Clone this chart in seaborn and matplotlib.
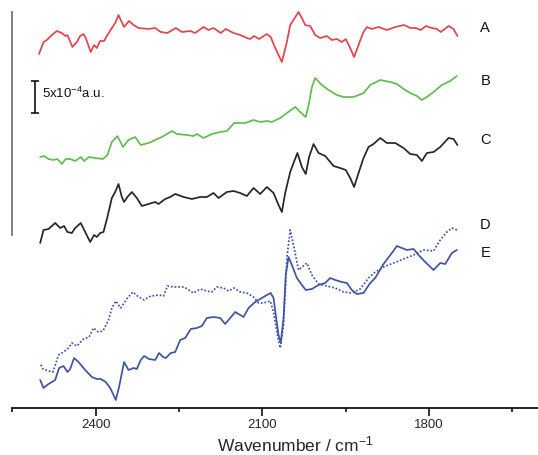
import matplotlib
matplotlib.use("Agg")
import matplotlib.pyplot as plt
import pandas as pd
import seaborn as sns
from matplotlib.ticker import MultipleLocator, AutoMinorLocator

# spectra; signal in reading units (32 units = 5x10^-4 a.u.)
UNIT = 5e-4 / 32
SCALE_BAR = 5e-4

a_wn = [2502, 2494, 2488, 2479, 2470, 2461, 2455, 2451, 2442, 2434, 2428, 2422, 2418, 2409, 2403,
        2398, 2392, 2385, 2379, 2371, 2365, 2359, 2355, 2349, 2340, 2332, 2323, 2305, 2293, 2283,
        2271, 2256, 2245, 2230, 2221, 2206, 2197, 2188, 2175, 2166, 2152, 2140, 2128, 2122, 2115,
        2106, 2092, 2085, 2077, 2065, 2056, 2050, 2043, 2035, 2029, 2023, 2014, 2005, 1996, 1984,
        1975, 1966, 1957, 1950, 1942, 1935, 1927, 1919, 1912, 1903, 1891, 1876, 1861, 1845, 1834,
        1824, 1815, 1806, 1795, 1786, 1779, 1765, 1756, 1749]
a_sig = [355, 367, 369, 374, 378, 376, 373, 374, 362, 367, 373, 375, 371, 357, 364,
         361, 368, 368, 374, 381, 386, 394, 389, 382, 388, 384, 381, 380, 381, 377,
         376, 381, 377, 378, 376, 382, 379, 381, 376, 380, 376, 374, 371, 370, 373,
         370, 375, 372, 361, 347, 367, 384, 390, 397, 391, 384, 383, 374, 371, 373,
         369, 370, 367, 370, 361, 352, 364, 376, 382, 380, 382, 379, 382, 384, 381,
         381, 379, 383, 381, 380, 377, 383, 380, 373]

b_wn = [2500, 2493, 2485, 2476, 2469, 2461, 2454, 2446, 2437, 2427, 2421, 2412, 2401, 2387, 2379,
        2371, 2361, 2351, 2341, 2329, 2319, 2305, 2293, 2281, 2272, 2263, 2254, 2236, 2224, 2218,
        2206, 2191, 2176, 2164, 2151, 2140, 2131, 2116, 2104, 2092, 2083, 2068, 2056, 2041, 2032,
        2022, 2016, 2011, 2005, 1993, 1981, 1966, 1954, 1936, 1918, 1906, 1888, 1870, 1858, 1846,
        1834, 1822, 1813, 1804, 1792, 1777, 1762, 1750]
b_sig = [252, 253, 250, 249, 250, 245, 250, 250, 248, 252, 248, 252, 251, 250, 254,
         267, 273, 262, 269, 272, 264, 266, 269, 272, 275, 278, 275, 274, 273, 275,
         271, 275, 277, 278, 286, 286, 286, 289, 287, 288, 287, 291, 296, 302, 297,
         292, 306, 322, 331, 324, 319, 314, 312, 312, 316, 324, 329, 327, 325, 320,
         316, 313, 309, 312, 317, 324, 328, 333]

c_wn = [2500, 2494, 2485, 2473, 2464, 2457, 2451, 2443, 2437, 2427, 2419, 2410, 2403, 2398, 2392,
        2386, 2379, 2371, 2365, 2359, 2353, 2349, 2343, 2335, 2326, 2317, 2305, 2293, 2287, 2275,
        2266, 2257, 2242, 2227, 2212, 2200, 2188, 2179, 2164, 2152, 2140, 2128, 2116, 2104, 2092,
        2080, 2071, 2065, 2059, 2050, 2044, 2037, 2029, 2022, 2016, 2008, 1999, 1987, 1972, 1960,
        1950, 1942, 1935, 1927, 1918, 1909, 1900, 1888, 1876, 1861, 1846, 1834, 1822, 1813, 1804,
        1792, 1780, 1765, 1756, 1749]
c_sig = [166, 179, 180, 186, 181, 183, 177, 176, 181, 186, 177, 167, 174, 172, 176,
         177, 192, 211, 217, 225, 212, 207, 212, 217, 211, 203, 205, 207, 205, 210,
         212, 215, 212, 210, 212, 212, 216, 211, 217, 218, 216, 213, 221, 215, 222,
         216, 204, 197, 216, 237, 246, 256, 242, 235, 252, 265, 256, 253, 243, 241,
         239, 231, 222, 236, 251, 262, 265, 271, 266, 266, 261, 255, 254, 248, 256,
         257, 262, 271, 270, 264]

d_wn = [2500, 2495, 2485, 2477, 2467, 2458, 2449, 2443, 2434, 2422, 2412, 2404, 2395, 2387, 2377,
        2371, 2364, 2355, 2343, 2333, 2325, 2313, 2301, 2286, 2278, 2271, 2260, 2241, 2224, 2212,
        2200, 2191, 2182, 2170, 2161, 2151, 2140, 2128, 2116, 2107, 2098, 2086, 2080, 2073, 2068,
        2062, 2056, 2050, 2044, 2035, 2020, 2011, 1999, 1984, 1969, 1954, 1939, 1924, 1909, 1897,
        1882, 1864, 1846, 1828, 1810, 1792, 1780, 1768, 1759, 1750]
d_sig = [46, 40, 38, 37, 54, 57, 61, 66, 63, 70, 72, 81, 77, 78, 89,
         101, 108, 101, 111, 117, 113, 109, 113, 114, 113, 123, 122, 122, 116, 120,
         118, 117, 122, 121, 118, 121, 117, 116, 112, 106, 106, 108, 97, 74, 61,
         84, 151, 179, 164, 139, 146, 134, 125, 123, 121, 117, 116, 120, 131, 137,
         142, 146, 150, 154, 159, 158, 169, 177, 181, 179]

e_wn = [2500, 2494, 2485, 2473, 2466, 2458, 2451, 2446, 2439, 2431, 2419, 2407, 2398, 2391, 2382,
        2374, 2368, 2364, 2358, 2349, 2341, 2332, 2326, 2319, 2313, 2304, 2293, 2286, 2279, 2274,
        2265, 2257, 2248, 2239, 2229, 2218, 2209, 2200, 2188, 2176, 2167, 2158, 2149, 2140, 2134,
        2125, 2113, 2101, 2092, 2085, 2080, 2076, 2071, 2067, 2062, 2058, 2053, 2047, 2038, 2029,
        2022, 2011, 1999, 1987, 1978, 1969, 1957, 1948, 1939, 1930, 1918, 1906, 1897, 1882, 1867,
        1858, 1849, 1840, 1828, 1819, 1807, 1792, 1780, 1771, 1759, 1750]
e_sig = [29, 21, 25, 29, 41, 43, 37, 40, 51, 47, 39, 32, 30, 30, 27,
         21, 14, 9, 22, 47, 39, 41, 40, 49, 53, 50, 49, 56, 52, 51,
         56, 57, 69, 71, 80, 81, 83, 91, 92, 91, 85, 91, 97, 94, 92,
         101, 107, 111, 114, 116, 111, 94, 74, 66, 91, 134, 152, 144, 131, 124,
         119, 120, 124, 126, 131, 129, 127, 126, 119, 115, 116, 126, 131, 145, 156,
         163, 161, 159, 160, 154, 147, 139, 146, 145, 156, 159]

traces = ["A", "B", "C", "D", "E"]
wns = [a_wn, b_wn, c_wn, d_wn, e_wn]
sigs = [a_sig, b_sig, c_sig, d_sig, e_sig]

frames = []
for name, w, s in zip(traces, wns, sigs):
    frames.append(pd.DataFrame({"wn": w, "absorbance": [v * UNIT for v in s], "trace": name}))
df = pd.concat(frames, ignore_index=True)

palette = {"A": "#e5434a", "B": "#5fbd4e", "C": "#262626", "D": "#3d54a3", "E": "#3d54a3"}
dashes = {"A": "", "B": "", "C": "", "D": (1, 1.1), "E": ""}

sns.set_theme(style="white")
plt.rcParams["font.family"] = ["Liberation Sans", "DejaVu Sans"]
plt.rcParams["mathtext.default"] = "regular"

fig = plt.figure(figsize=(5.38, 4.55), dpi=100)
ax = fig.add_axes([12.4 / 538, 47 / 455, 525.6 / 538, 408 / 455])

sns.lineplot(data=df, x="wn", y="absorbance", hue="trace", style="trace",
             palette=palette, dashes=dashes, estimator=None, linewidth=1.25,
             legend=False, ax=ax)

ax.set_xlim(2550, 1604)
ax.set_ylim(1 * UNIT, 409 * UNIT)

# trace labels at the right end
label_y = {"A": 381, "B": 328, "C": 269, "D": 184, "E": 156}
for name in traces:
    ax.text(1699, label_y[name] * UNIT, name, fontsize=10.5, ha="center", va="center", color="#111")

# scale bar
bar_x, bar_y0 = 2509, 296 * UNIT
ax.errorbar(bar_x, bar_y0 + SCALE_BAR / 2, yerr=SCALE_BAR / 2, color="#111",
            elinewidth=1.2, capsize=2.6, capthick=1.2)
ax.text(2497, bar_y0 + SCALE_BAR * 0.6, "5x10$^{-4}$a.u.", fontsize=9.5,
        ha="left", va="center", color="#111")

for side in ["top", "right"]:
    ax.spines[side].set_visible(False)
ax.spines["left"].set_bounds(174 * UNIT, 397 * UNIT)
ax.spines["left"].set_color("#777777")
ax.spines["left"].set_linewidth(1.3)
ax.spines["bottom"].set_color("#111111")
ax.spines["bottom"].set_linewidth(1.3)

ax.xaxis.set_major_locator(MultipleLocator(300))
ax.xaxis.set_minor_locator(AutoMinorLocator(2))
ax.tick_params(axis="x", which="major", direction="out", length=5.5, width=1.2,
               bottom=True, labelsize=9.5, pad=2.5, color="#111")
ax.tick_params(axis="x", which="minor", direction="out", length=3, width=1.2,
               bottom=True, color="#111")
ax.tick_params(axis="y", left=False, labelleft=False)

ax.set_xlabel("Wavenumber / cm$^{-1}$", fontsize=12.5)
ax.set_ylabel("")
ax.xaxis.set_label_coords(0.5377, -0.065)

fig.savefig("out.png", dpi=100)
